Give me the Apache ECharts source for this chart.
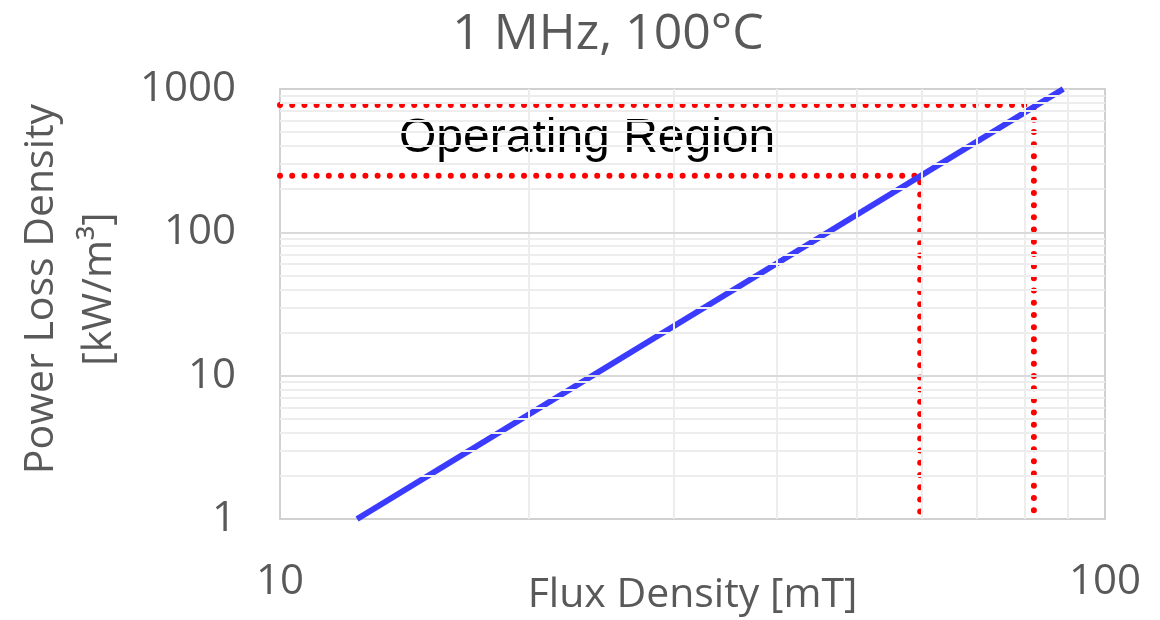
<!DOCTYPE html>
<html>
<head>
<meta charset="utf-8">
<script src="https://cdn.jsdelivr.net/npm/echarts@6/dist/echarts.min.js"></script>
<style>
html,body{margin:0;padding:0;background:#fff;}
#chart{width:1160px;height:620px;}
</style>
</head>
<body>
<div id="chart"></div>
<script>
// Data
const chartTitle = '1 MHz, 100°C';
const xAxisName = 'Flux Density [mT]';
const yAxisNameLines = ['Power Loss Density', '[kW/m³]'];
const annotationText = 'Operating Region';

// Blue loss curve (straight line on log-log axes): endpoints
const fluxDensity = [12.4, 89];
const powerLoss = [1, 1000];

// Operating region bounds (dotted red guides)
const opFlux = [59.7, 82];
const opLoss = [248, 773];

// Axis limits / tick values
const xMin = 10, xMax = 100;
const yMin = 1, yMax = 1000;
const xMinorTicks = [20, 30, 40, 50, 60, 70, 80, 90];
const yMinorTicks = [2,3,4,5,6,7,8,9,20,30,40,50,60,70,80,90,200,300,400,500,600,700,800,900];
const yMajorTicks = [10, 100];

const FONT = '"Open Sans", "Noto Sans", sans-serif';
const GRAY = '#595959';

const chart = echarts.init(document.getElementById('chart'), null, {renderer: 'canvas'});

const guideStyle = {color: '#FF0000', width: 6, type: [0, 12.2], cap: 'round'};

const option = {
  animation: false,
  backgroundColor: '#ffffff',
  title: {
    text: chartTitle,
    left: 603, top: 5, textAlign: 'center',
    textStyle: {fontFamily: FONT, fontSize: 50, fontWeight: 'normal', color: GRAY}
  },
  grid: {left: 280, top: 89, right: 55, bottom: 101, containLabel: false, outerBoundsMode: 'none',
         show: true, borderColor: '#D0D0D0', borderWidth: 2},
  xAxis: {
    type: 'log', logBase: 10, min: xMin, max: xMax,
    name: xAxisName, nameLocation: 'middle', nameGap: 56, nameMoveOverlap: false,
    nameTextStyle: {fontFamily: FONT, fontSize: 41, color: GRAY, verticalAlign: 'top'},
    axisLine: {show: false}, axisTick: {show: false},
    axisLabel: {fontFamily: FONT, fontSize: 42, color: GRAY, margin: 42, formatter: v => String(v)},
    splitLine: {show: false}
  },
  yAxis: {
    type: 'log', logBase: 10, min: yMin, max: yMax,
    axisLine: {show: false}, axisTick: {show: false},
    axisLabel: {fontFamily: FONT, fontSize: 42, color: GRAY, margin: 44, formatter: v => String(v)},
    splitLine: {show: false}
  },
  series: [
    {
      type: 'line', name: 'minor-x', data: [], silent: true,
      markLine: {
        silent: true, symbol: 'none', label: {show: false},
        lineStyle: {color: '#EDEDED', width: 2, type: 'solid'},
        data: xMinorTicks.map(v => ({xAxis: v}))
      }
    },
    {
      type: 'line', name: 'minor-y', data: [], silent: true,
      markLine: {
        silent: true, symbol: 'none', label: {show: false},
        lineStyle: {color: '#EDEDED', width: 2, type: 'solid'},
        data: yMinorTicks.map(v => ({yAxis: v}))
      }
    },
    {
      type: 'line', name: 'major-y', data: [], silent: true,
      markLine: {
        silent: true, symbol: 'none', label: {show: false},
        lineStyle: {color: '#D9D9D9', width: 2, type: 'solid'},
        data: yMajorTicks.map(v => ({yAxis: v}))
      }
    },
    {
      type: 'line', name: 'guide-low', showSymbol: false, silent: true,
      lineStyle: guideStyle,
      data: [[xMin, opLoss[0]], [opFlux[0], opLoss[0]], [opFlux[0], yMin]]
    },
    {
      type: 'line', name: 'guide-high', showSymbol: false, silent: true,
      lineStyle: guideStyle,
      data: [[xMin, opLoss[1]], [opFlux[1], opLoss[1]], [opFlux[1], yMin]]
    },
    {
      type: 'line', name: 'loss', showSymbol: false,
      lineStyle: {color: '#3B3BFF', width: 6},
      data: fluxDensity.map((b, i) => [b, powerLoss[i]])
    }
  ],
  graphic: [
    {
      type: 'text', left: 399, top: 115,
      style: {text: annotationText, font: '48px "Liberation Sans", Arial, sans-serif', fill: '#000000'}
    },
    {
      type: 'text', x: 41, y: 289, rotation: Math.PI / 2,
      style: {text: yAxisNameLines[0], font: '41px "Open Sans", sans-serif', fill: GRAY,
              textAlign: 'center', textVerticalAlign: 'middle'}
    },
    {
      type: 'text', x: 99, y: 289, rotation: Math.PI / 2,
      style: {text: yAxisNameLines[1], font: '41px "Open Sans", sans-serif', fill: GRAY,
              textAlign: 'center', textVerticalAlign: 'middle'}
    }
  ]
};
chart.setOption(option);
</script>
</body>
</html>
